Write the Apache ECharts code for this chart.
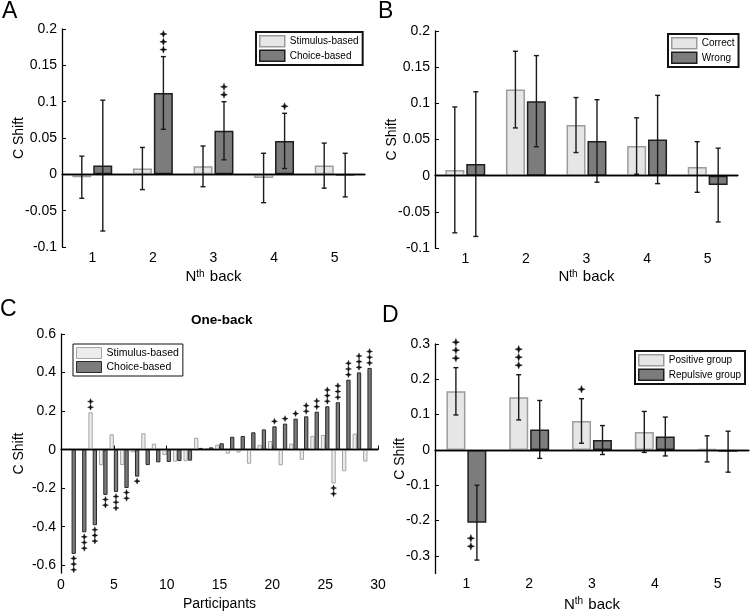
<!DOCTYPE html>
<html>
<head>
<meta charset="utf-8">
<script src="https://cdn.jsdelivr.net/npm/echarts@6/dist/echarts.min.js"></script>
<style>
  html, body { margin: 0; padding: 0; background: #fff; }
  #chart { width: 750px; height: 613px; }
</style>
</head>
<body>
<div id="chart"></div>
<script>
// panel A / B / D: N-th back
var nBack = ['1', '2', '3', '4', '5'];

var stimA = [-0.004, 0.008, 0.011, -0.005, 0.012];
var stimAErr = [0.029, 0.029, 0.028, 0.034, 0.031];
var choiceA = [0.012, 0.112, 0.060, 0.046, -0.001];
var choiceAErr = [0.090, 0.050, 0.040, 0.038, 0.030];
var choiceAStars = [0, 3, 2, 1, 0];

var correctB = [0.008, 0.119, 0.070, 0.041, 0.012];
var correctBErr = [0.087, 0.053, 0.038, 0.039, 0.035];
var wrongB = [0.016, 0.103, 0.048, 0.050, -0.013];
var wrongBErr = [0.100, 0.063, 0.057, 0.061, 0.051];

// panel C: one-back per participant
var participants = [1, 2, 3, 4, 5, 6, 7, 8, 9, 10, 11, 12, 13, 14, 15, 16, 17, 18, 19, 20, 21, 22, 23, 24, 25, 26, 27, 28, 29];
var stimC = [0.005, -0.005, 0.194, -0.081, 0.080, -0.080, -0.014, 0.085, 0.031, -0.028, -0.062, -0.060, 0.062, 0.008, 0.026,
  -0.021, -0.015, -0.073, 0.025, 0.045, -0.081, 0.031, -0.053, 0.071, 0.076, -0.176, -0.112, 0.083, -0.062];
var choiceC = [-0.541, -0.429, -0.392, -0.235, -0.220, -0.199, -0.140, -0.080, -0.066, -0.064, -0.059, -0.057, 0.009, 0.012, 0.033,
  0.067, 0.071, 0.090, 0.105, 0.121, 0.135, 0.161, 0.173, 0.197, 0.225, 0.246, 0.363, 0.401, 0.424];
var stimCStars = [0, 0, 2, 0, 0, 0, 0, 0, 0, 0, 0, 0, 0, 0, 0, 0, 0, 0, 0, 0, 0, 0, 0, 0, 0, 2, 0, 0, 0];
var choiceCStars = [3, 3, 3, 2, 3, 2, 1, 0, 0, 0, 0, 0, 0, 0, 0, 0, 0, 0, 0, 1, 1, 1, 2, 2, 3, 3, 3, 3, 3];

var posD = [0.166, 0.149, 0.082, 0.051, 0.003];
var posDErr = [0.067, 0.064, 0.063, 0.058, 0.037];
var posDStars = [3, 3, 1, 0, 0];
var repD = [-0.206, 0.058, 0.028, 0.038, -0.005];
var repDErr = [0.106, 0.082, 0.041, 0.055, 0.058];
var repDStars = [2, 0, 0, 0, 0];

var FONT = '"Liberation Sans", Arial, Helvetica, sans-serif';
var lightStyle = {color: '#e6e6e6', borderColor: '#9c9c9c', borderWidth: 1.5};
var darkStyle = {color: '#7c7c7c', borderColor: '#1e1e1e', borderWidth: 1.5};
var lightStyleC = {color: '#ececec', borderColor: '#a4a4a4', borderWidth: 1};
var darkStyleC = {color: '#7c7c7c', borderColor: '#2a2a2a', borderWidth: 1};

var chart = echarts.init(document.getElementById('chart'));

function starShape(cx, cy, r) {
  var pts = [];
  for (var k = 0; k < 8; k++) {
    var a = k * Math.PI / 4 - Math.PI / 2;
    var rr = k % 2 ? r * 0.38 : r;
    pts.push([cx + rr * Math.cos(a), cy + rr * Math.sin(a)]);
  }
  return {type: 'polygon', shape: {points: pts}, style: {fill: '#111', stroke: '#111', lineWidth: 0.4}};
}

// error bar + significance stars, drawn from the axis scales
function markRender(o) {
  return function (params, api) {
    var x = api.value(0), v = api.value(1), e = api.value(2), n = api.value(3);
    var p = api.coord([x, v]);
    var cx = p[0] + o.dx;
    var kids = [];
    var ls = {stroke: '#1a1a1a', lineWidth: 1.4};
    if (e > 0) {
      var hi = api.coord([x, v + e])[1], lo = api.coord([x, v - e])[1];
      kids.push({type: 'line', shape: {x1: cx, y1: hi, x2: cx, y2: lo}, style: ls});
      kids.push({type: 'line', shape: {x1: cx - 2.5, y1: hi, x2: cx + 2.5, y2: hi}, style: ls});
      kids.push({type: 'line', shape: {x1: cx - 2.5, y1: lo, x2: cx + 2.5, y2: lo}, style: ls});
    }
    for (var k = 0; k < n; k++) {
      if (v >= 0) {
        var y0 = api.coord([x, v + e])[1] - o.up - k * o.step;
        kids.push(starShape(cx, y0, o.r));
      } else {
        var y1 = p[1] + o.down + k * o.step;
        kids.push(starShape(cx + (o.dxDown || 0), y1, o.r));
      }
    }
    return {type: 'group', children: kids};
  };
}

function rows(vals, errs, stars) {
  return vals.map(function (v, i) { return [i, v, errs ? errs[i] : 0, stars ? stars[i] : 0]; });
}

function markSeries(idx, data, o) {
  return {
    type: 'custom', xAxisIndex: idx, yAxisIndex: idx, z: 4, silent: true,
    renderItem: markRender(o), data: data, encode: {x: 0, y: 1}
  };
}

var zeroLine = {
  silent: true, symbol: 'none', label: {show: false},
  lineStyle: {color: '#000', type: 'solid', width: 1.4},
  data: [{yAxis: 0}]
};

function catAxis(idx, gap) {
  return {
    type: 'category', gridIndex: idx, data: nBack,
    name: '{n|N}{s|th} back', nameLocation: 'middle', nameGap: gap,
    nameTextStyle: {color: '#000', fontSize: 15, rich: {n: {fontSize: 15, color: '#000'}, s: {fontSize: 10, color: '#000', verticalAlign: 'top', padding: [0, 1, 6, 0]}}},
    axisLine: {lineStyle: {color: '#000', width: 1.3}},
    axisTick: {inside: true, alignWithLabel: true, length: 4, lineStyle: {color: '#000'}},
    axisLabel: {color: '#000', fontSize: 14, margin: 4},
    splitLine: {show: false}
  };
}

function valAxis(idx, min, max, ticks, gap) {
  return {
    type: 'value', gridIndex: idx, min: min, max: max,
    name: 'C Shift', nameLocation: 'middle', nameGap: gap, nameMoveOverlap: false,
    nameTextStyle: {color: '#000', fontSize: 14},
    axisLine: {show: true, lineStyle: {color: '#000', width: 1.3}},
    axisTick: {show: true, inside: true, length: 4, lineStyle: {color: '#000'}, customValues: ticks},
    axisLabel: {color: '#000', fontSize: 14, margin: 5, customValues: ticks},
    splitLine: {show: false}
  };
}

function legendBox(left, top, names, styles, bw, fs) {
  return {
    left: left, top: top, orient: 'vertical', selectedMode: false,
    itemWidth: 25, itemHeight: 11, itemGap: 2, padding: [3, 4, 3, 3],
    borderColor: '#111', borderWidth: bw, backgroundColor: '#fff',
    textStyle: {fontSize: fs, color: '#000', fontFamily: FONT},
    data: names.map(function (n, i) { return {name: n, icon: 'rect', itemStyle: styles[i]}; })
  };
}

var option = {
  animation: false,
  backgroundColor: '#fff',
  textStyle: {fontFamily: FONT},
  title: [
    {text: 'A', left: 2, top: 0, padding: 0, textStyle: {fontSize: 23, fontWeight: 'normal', color: '#000', fontFamily: FONT}},
    {text: 'B', left: 378, top: 0, padding: 0, textStyle: {fontSize: 23, fontWeight: 'normal', color: '#000', fontFamily: FONT}},
    {text: 'C', left: 0, top: 298, padding: 0, textStyle: {fontSize: 23, fontWeight: 'normal', color: '#000', fontFamily: FONT}},
    {text: 'D', left: 382, top: 304, padding: 0, textStyle: {fontSize: 23, fontWeight: 'normal', color: '#000', fontFamily: FONT}},
    {text: 'One-back', left: 191, top: 313, padding: 0, textStyle: {fontSize: 13.5, fontWeight: 'bold', color: '#000', fontFamily: FONT}}
  ],
  legend: [
    legendBox(256, 32, ['Stimulus-based', 'Choice-based'], [lightStyle, darkStyle], 2, 10),
    legendBox(668, 34, ['Correct', 'Wrong'], [lightStyle, darkStyle], 2, 10),
    legendBox(73, 344, ['Stimulus-based', 'Choice-based'], [lightStyleC, darkStyleC], 1, 10.5),
    legendBox(635, 351, ['Positive group', 'Repulsive group'], [lightStyle, darkStyle], 2, 10)
  ],
  grid: [
    {left: 62, top: 29, width: 303, height: 218},
    {left: 435, top: 31, width: 303, height: 217},
    {left: 61, top: 334, width: 317, height: 239},
    {left: 435, top: 344, width: 314, height: 231}
  ],
  xAxis: [
    catAxis(0, 22),
    catAxis(1, 21),
    {
      type: 'value', gridIndex: 2, min: 0, max: 30, interval: 5,
      name: 'Participants', nameLocation: 'middle', nameGap: 24,
      nameTextStyle: {color: '#000', fontSize: 14},
      axisLine: {lineStyle: {color: '#000', width: 1.3}},
      axisTick: {show: true, inside: true, length: 4, lineStyle: {color: '#000'}},
      axisLabel: {color: '#000', fontSize: 14, margin: 5},
      splitLine: {show: false}
    },
    catAxis(3, 23)
  ],
  yAxis: [
    valAxis(0, -0.1, 0.2, [-0.1, -0.05, 0, 0.05, 0.1, 0.15, 0.2], 36),
    valAxis(1, -0.1, 0.2, [-0.1, -0.05, 0, 0.05, 0.1, 0.15, 0.2], 36),
    valAxis(2, -0.64, 0.6, [-0.6, -0.4, -0.2, 0, 0.2, 0.4, 0.6], 35),
    valAxis(3, -0.35, 0.3, [-0.3, -0.2, -0.1, 0, 0.1, 0.2, 0.3], 28)
  ],
  series: [
    // A
    {name: 'Stimulus-based', type: 'bar', xAxisIndex: 0, yAxisIndex: 0, barWidth: 19, barGap: '10%', itemStyle: lightStyle, data: stimA, markLine: zeroLine},
    {name: 'Choice-based', type: 'bar', xAxisIndex: 0, yAxisIndex: 0, barWidth: 19, barGap: '10%', itemStyle: darkStyle, data: choiceA},
    markSeries(0, rows(stimA, stimAErr), {dx: -10.5, up: 7, step: 7.8, r: 3.6}),
    markSeries(0, rows(choiceA, choiceAErr, choiceAStars), {dx: 10.5, up: 7, step: 7.8, r: 3.6}),
    // B
    {name: 'Correct', type: 'bar', xAxisIndex: 1, yAxisIndex: 1, barWidth: 19, barGap: '10%', itemStyle: lightStyle, data: correctB, markLine: zeroLine},
    {name: 'Wrong', type: 'bar', xAxisIndex: 1, yAxisIndex: 1, barWidth: 19, barGap: '10%', itemStyle: darkStyle, data: wrongB},
    markSeries(1, rows(correctB, correctBErr), {dx: -10.5, up: 7, step: 7.8, r: 3.6}),
    markSeries(1, rows(wrongB, wrongBErr), {dx: 10.5, up: 7, step: 7.8, r: 3.6}),
    // C
    {name: 'Stimulus-based', type: 'bar', xAxisIndex: 2, yAxisIndex: 2, barWidth: 4.3, barGap: '0%', itemStyle: lightStyleC,
      data: participants.map(function (p, i) { return [p, stimC[i]]; }), markLine: zeroLine},
    {name: 'Choice-based', type: 'bar', xAxisIndex: 2, yAxisIndex: 2, barWidth: 4.3, barGap: '0%', itemStyle: darkStyleC,
      data: participants.map(function (p, i) { return [p, choiceC[i]]; })},
    markSeries(2, participants.map(function (p, i) { return [p, stimC[i], 0, stimCStars[i]]; }), {dx: -2.15, up: 5, down: 4.5, step: 5.7, r: 3}),
    markSeries(2, participants.map(function (p, i) { return [p, choiceC[i], 0, choiceCStars[i]]; }), {dx: 2.15, up: 5, down: 4.5, step: 5.7, r: 3}),
    // D
    {name: 'Positive group', type: 'bar', xAxisIndex: 3, yAxisIndex: 3, barWidth: 19, barGap: '10%', itemStyle: lightStyle, data: posD, markLine: zeroLine},
    {name: 'Repulsive group', type: 'bar', xAxisIndex: 3, yAxisIndex: 3, barWidth: 19, barGap: '10%', itemStyle: darkStyle, data: repD},
    markSeries(3, rows(posD, posDErr, posDStars), {dx: -10.5, up: 9.5, step: 8, r: 3.7}),
    markSeries(3, rows(repD, repDErr, repDStars), {dx: 10.5, up: 9.5, down: 15.6, dxDown: -6, step: 8, r: 3.7})
  ]
};

chart.setOption(option);
</script>
</body>
</html>
